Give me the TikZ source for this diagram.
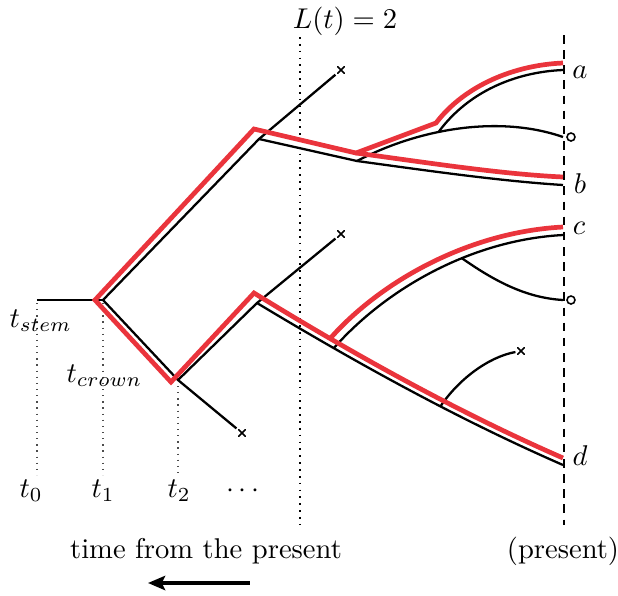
\documentclass[tikz,border=0pt]{standalone}
\usetikzlibrary{arrows.meta}
\definecolor{lred}{RGB}{234,52,60}
\begin{document}
\begin{tikzpicture}[x=0.35pt,y=-0.35pt,
  br/.style={line width=0.8pt, black},
  rd/.style={line width=1.65pt, lred},
  xmark/.style={inner sep=0pt, outer sep=0.6pt, minimum size=2.7pt,
    path picture={\draw[line width=0.55pt] (path picture bounding box.north west) -- (path picture bounding box.south east)
      (path picture bounding box.north east) -- (path picture bounding box.south west);}},
  omark/.style={circle, draw, line width=0.55pt, inner sep=0pt, minimum size=2.8pt},
  tdot/.style={black!70, line width=0.45pt, dash pattern=on 0.45pt off 1.7pt},
  ldot/.style={black, line width=0.6pt, dash pattern=on 0.6pt off 1.8pt},
  pres/.style={black, line width=0.55pt, dash pattern=on 3pt off 2.3pt},
  lab/.style={inner sep=0pt}]
\useasboundingbox (0,0) rectangle (618,595);

% ---------- guide lines ----------
\coordinate (t0a) at (37,303);  \coordinate (t0b) at (37,475);
\coordinate (t1a) at (103,303); \coordinate (t1b) at (103,475);
\coordinate (t2a) at (178,386); \coordinate (t2b) at (178,475);
\coordinate (La)  at (300,37);  \coordinate (Lb)  at (300,525);
\coordinate (Pa)  at (564,35);  \coordinate (Pb)  at (564,525);
\draw[tdot] (t0a) -- (t0b);
\draw[tdot] (t1a) -- (t1b);
\draw[tdot] (t2a) -- (t2b);
\draw[ldot] (La) -- (Lb);
\draw[pres] (Pa) -- (Pb);

% ---------- black tree ----------
\coordinate (s0) at (37,300);
\coordinate (cr) at (103,300);
\coordinate (u1) at (259,139);
\node[xmark] (xu) at (341,70) {};
\coordinate (u2) at (357,161);
\coordinate (ea) at (563,70);
\coordinate (eo1) at (563,137);
\coordinate (eb) at (563,185);
\coordinate (l1) at (178,380);
\node[xmark] (xl) at (242,433) {};
\coordinate (l2) at (257,303);
\node[xmark] (xm) at (341,234) {};
\coordinate (ec) at (563,235);
\coordinate (eo2) at (563,300);
\node[xmark] (xr) at (521,351) {};
\coordinate (ed) at (563,465);
\node[omark] (o1) at (571,137) {};
\node[omark] (o2) at (571,300) {};

\draw[br] (s0) -- (cr);
\draw[br] (cr) -- (u1) -- (xu);
\draw[br] (u1) -- (u2);
\draw[br] (u2) .. controls (430,171) and (500,181) .. (eb);
\draw[br] (u2) .. controls (420,128) and (500,115) .. coordinate[pos=0.4] (u3) (eo1);
\draw[br] (u3) .. controls (468,92) and (515,72) .. (ea);
\draw[br] (cr) -- (l1) -- (xl);
\draw[br] (l1) -- (l2) -- (xm);
\draw[br] (l2) .. controls (360,365) and (460,420) .. coordinate[pos=0.25] (l3) coordinate[pos=0.6] (l5) (ed);
\draw[br] (l3) .. controls (385,290) and (470,240) .. coordinate[pos=0.62] (l4) (ec);
\draw[br] (l4) .. controls (500,285) and (530,298) .. (eo2);
\draw[br] (l5) .. controls (458,380) and (488,357) .. (xr);

% ---------- red path ----------
\coordinate (r0) at (95,300);
\coordinate (r1) at (254,129);
\coordinate (r2) at (356,153);
\coordinate (r3) at (436,123);
\coordinate (ra) at (563,63);
\coordinate (rb) at (563,177);
\coordinate (r4) at (171,382);
\coordinate (r5) at (254,293);
\coordinate (rc) at (563,227);
\coordinate (rd) at (563,458);
\draw[rd] (ra) .. controls (515,65) and (465,85) .. (r3) -- (r2) -- (r1) -- (r0) -- (r4) -- (r5)
   .. controls (358,357) and (460,413) .. coordinate[pos=0.245] (r6) (rd);
\draw[rd] (r2) .. controls (430,163) and (500,174) .. (rb);
\draw[rd] (r6) .. controls (380,282) and (468,232) .. (rc);

% ---------- labels ----------
\node[lab] (Lt) at (345,28) [anchor=base] {$L(t) = 2$};
\node[lab] (la) at (580,72) {$a$};
\node[lab] (lb) at (580,184) {$b$};
\node[lab] (lc) at (579,228) {$c$};
\node[lab] (ld) at (580,456) {$d$};
\node[lab, anchor=base west] (tstem) at (9,327) {$t_{stem}$};
\node[lab, anchor=base west] (tcrown) at (66,382) {$t_{crown}$};
\node[lab, anchor=base west] (tz) at (19,497) {$t_0$};
\node[lab, anchor=base west] (tone) at (91,497) {$t_1$};
\node[lab, anchor=base west] (ttwo) at (167,497) {$t_2$};
\node[lab, anchor=base] (tdots) at (243,497) {$\cdots$};
\node[lab, anchor=base] (tfp) at (206,558) {time from the present};
\node[lab, anchor=base] (tpr) at (563,558) {(present)};

\coordinate (ar1) at (250,583);
\coordinate (ar2) at (148,583);
\draw[line width=1.7pt, -{Stealth[length=6pt,width=5pt,inset=1.2pt]}] (ar1) -- (ar2);
\end{tikzpicture}
\end{document}
